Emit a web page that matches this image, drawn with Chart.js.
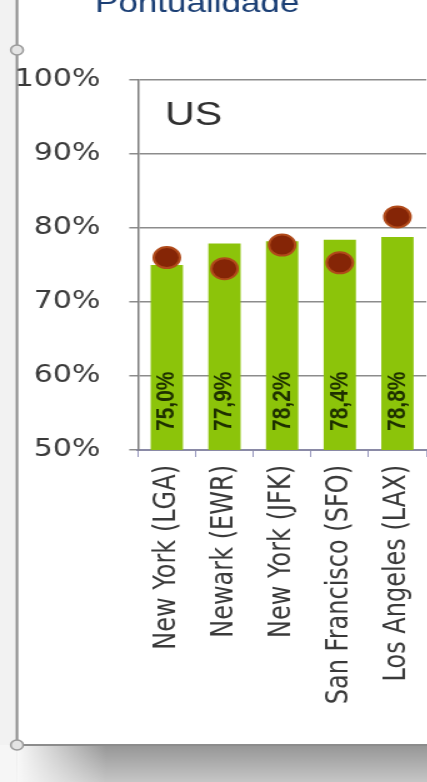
<!DOCTYPE html>
<html>
<head>
<meta charset="utf-8">
<script src="https://cdn.jsdelivr.net/npm/chart.js@4.4.1/dist/chart.umd.min.js"></script>
<style>
  html, body { margin: 0; padding: 0; overflow: hidden; background: #fff; }
  /* the slide is shown stretched sideways */
  #wrap { width: 356px; height: 782px; transform: scaleX(1.25); transform-origin: 0 0; }
</style>
</head>
<body>
<div id="wrap"><canvas id="pontChart" width="356" height="782"></canvas></div>
<script>
const aeroportos = ["New York (LGA)", "Newark (EWR)", "New York (JFK)", "San Francisco (SFO)", "Los Angeles (LAX)"];
const pontualidade = [75.0, 77.9, 78.2, 78.4, 78.8];
const media = [76.0, 74.5, 77.7, 75.3, 81.5];
const yTicks = [50, 60, 70, 80, 90, 100];

const fmtPct = (v) => v.toFixed(1).replace(".", ",") + "%";

// slide frame, shadow, title and the "US" heading
const slideDecor = {
  id: "slideDecor",
  beforeDraw(chart) {
    const ctx = chart.ctx;
    const w = chart.width;
    ctx.save();
    ctx.fillStyle = "#ffffff";
    ctx.fillRect(0, 0, w, 782);
    ctx.fillStyle = "#f2f2f2";
    ctx.fillRect(0, 0, 13.6, 745);

    // shadow under the slide
    const g = ctx.createLinearGradient(0, 746, 0, 782);
    g.addColorStop(0, "#979797");
    g.addColorStop(1, "#c6c6c6");
    ctx.fillStyle = g;
    ctx.fillRect(13.6, 746, w, 36);
    const fade = ctx.createLinearGradient(14, 0, 85, 0);
    fade.addColorStop(0, "rgba(248,248,248,1)");
    fade.addColorStop(1, "rgba(248,248,248,0)");
    ctx.fillStyle = fade;
    ctx.fillRect(13.6, 746, 80, 36);
    ctx.fillStyle = "#f6f6f6";
    ctx.fillRect(0, 745, 13.6, 37);

    ctx.strokeStyle = "#8c8c8c";
    ctx.lineWidth = 2;
    ctx.beginPath();
    ctx.moveTo(13.6, 0);
    ctx.lineTo(13.6, 745);
    ctx.lineTo(w, 745);
    ctx.stroke();

    // resize handles
    [50, 745].forEach((y) => {
      ctx.fillStyle = "#e4e4e4";
      ctx.strokeStyle = "#9a9a9a";
      ctx.lineWidth = 1.5;
      ctx.beginPath();
      ctx.arc(13.6, y, 5, 0, Math.PI * 2);
      ctx.fill();
      ctx.stroke();
    });
    ctx.restore();
  },
  afterDraw(chart) {
    const ctx = chart.ctx;
    ctx.save();
    ctx.fillStyle = "#1b3f75";
    ctx.font = "28px 'Liberation Sans', Arial, sans-serif";
    ctx.textBaseline = "alphabetic";
    ctx.fillText("Pontualidade", 76, 12);
    ctx.fillStyle = "#303030";
    ctx.font = "33px 'Liberation Sans', Arial, sans-serif";
    ctx.fillText("US", 132, 125);
    ctx.restore();
  }
};

// value written up the base of each bar
const barValues = {
  id: "barValues",
  afterDatasetsDraw(chart) {
    const ctx = chart.ctx;
    const meta = chart.getDatasetMeta(0);
    const baseY = chart.scales.y.getPixelForValue(yTicks[0]);
    ctx.save();
    ctx.fillStyle = "#1e3000";
    ctx.font = "bold 21px 'Liberation Sans', Arial, sans-serif";
    ctx.textAlign = "left";
    ctx.textBaseline = "middle";
    meta.data.forEach((bar, i) => {
      ctx.save();
      ctx.translate(bar.x, baseY - 19);
      ctx.rotate(-Math.PI / 2);
      ctx.fillText(fmtPct(pontualidade[i]), 0, 0);
      ctx.restore();
    });
    ctx.restore();
  }
};

function initChart() {
  const ctx = document.getElementById("pontChart").getContext("2d");
  new Chart(ctx, {
    data: {
      labels: aeroportos,
      datasets: [
        {
          type: "bar",
          label: "Pontualidade",
          data: pontualidade,
          backgroundColor: "#8cc40a",
          barPercentage: 0.56,
          categoryPercentage: 1,
          order: 2,
        },
        {
          type: "line",
          label: "Média",
          data: media,
          showLine: false,
          pointRadius: 10.5,
          pointHoverRadius: 10.5,
          pointBackgroundColor: "#852506",
          pointBorderColor: "#b04a1a",
          pointBorderWidth: 2,
          order: 1,
        },
      ],
    },
    options: {
      responsive: false,
      animation: false,
      layout: { padding: { top: 80, left: 0, right: 0, bottom: 0 } },
      plugins: {
        legend: { display: false },
        tooltip: { enabled: false },
      },
      scales: {
        x: {
          grid: {
            drawOnChartArea: false,
            drawTicks: true,
            tickLength: 7,
            color: "#9a9ac0",
            offset: true,
          },
          border: { color: "#8a8aa6", width: 2 },
          ticks: {
            minRotation: 90,
            maxRotation: 90,
            padding: 8,
            color: "#3a3a3a",
            font: { family: "'DejaVu Sans'", size: 24 },
          },
          afterFit(scale) {
            scale.height = 332;
          },
        },
        y: {
          min: yTicks[0],
          max: yTicks[yTicks.length - 1],
          grid: {
            color: "#8c8c8c",
            lineWidth: 1.5,
            tickLength: 7,
          },
          border: { color: "#7f7f7f", width: 1.5 },
          ticks: {
            stepSize: yTicks[1] - yTicks[0],
            padding: 23,
            color: "#3a3a3a",
            font: { family: "'DejaVu Sans'", size: 24 },
            callback: (v) => v + "%",
          },
          afterFit(scale) {
            scale.width = 110.4;
          },
        },
      },
    },
    plugins: [slideDecor, barValues],
  });
}

window.onload = initChart;
</script>
</body>
</html>
